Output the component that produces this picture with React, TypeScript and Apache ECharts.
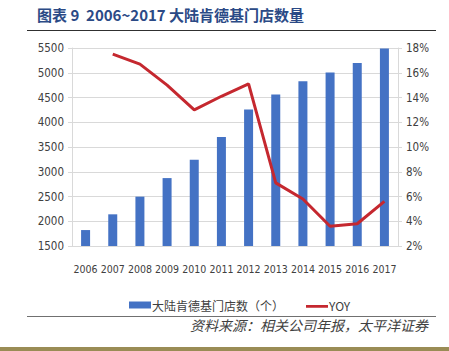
import React, { useEffect, useRef } from "react";
import * as echarts from "echarts";

const years = ["2006", "2007", "2008", "2009", "2010", "2011", "2012", "2013", "2014", "2015", "2016", "2017"];
const stores = [1822, 2140, 2497, 2872, 3244, 3701, 4260, 4563, 4828, 5003, 5195, 5488];
const yoy = [null, 17.5, 16.7, 15.0, 13.0, 14.1, 15.1, 7.1, 5.8, 3.6, 3.8, 5.6];
const barName = "大陆肯德基门店数（个）";
const lineName = "YOY";
const titleText = "图表 9  2006~2017 大陆肯德基门店数量";
const sourceText = "资料来源：相关公司年报，太平洋证券";

const axisFont = "'DejaVu Sans Condensed', 'Liberation Sans Narrow', sans-serif";
const cjkFont = "'Noto Sans CJK SC', sans-serif";

export default function App() {
  const ref = useRef<HTMLDivElement>(null);
  useEffect(() => {
    if (!ref.current) return;
    const chart = echarts.init(ref.current, null, { renderer: "svg" });
    chart.setOption({
      animation: false,
      backgroundColor: "#ffffff",
      grid: { left: 72, right: 51, top: 48, bottom: 105 },
      legend: {
        top: 294,
        left: 124,
        itemGap: 22,
        itemWidth: 22,
        itemHeight: 7,
        textStyle: { fontFamily: cjkFont, fontSize: 12, color: "#404040", padding: [0, 0, 0, -4] },
        data: [
          { name: barName, icon: "rect" },
          { name: lineName, icon: "path://M0,0L0.01,0M0,3H24V6H0Z" },
        ],
      },
      xAxis: {
        type: "category",
        data: years,
        axisLine: { show: true, lineStyle: { color: "#d9d9d9" } },
        axisTick: { show: false },
        axisLabel: { fontFamily: axisFont, fontSize: 10.5, color: "#404040", margin: 17, interval: 0 },
      },
      yAxis: [
        {
          type: "value",
          min: 1500,
          max: 5500,
          interval: 500,
          axisLine: { show: true, lineStyle: { color: "#d9d9d9" } },
          axisTick: { show: true, length: 4, lineStyle: { color: "#d9d9d9" } },
          splitLine: { lineStyle: { color: "#d9d9d9" } },
          axisLabel: { fontFamily: axisFont, fontSize: 11.5, color: "#404040", margin: 8, formatter: (v: number) => String(v) },
        },
        {
          type: "value",
          min: 2,
          max: 18,
          interval: 2,
          position: "right",
          axisLine: { show: true, lineStyle: { color: "#d9d9d9" } },
          axisTick: { show: true, length: 4, lineStyle: { color: "#d9d9d9" } },
          splitLine: { show: false },
          axisLabel: { fontFamily: axisFont, fontSize: 11.5, color: "#404040", margin: 8, formatter: "{value}%" },
        },
      ],
      series: [
        {
          name: barName,
          type: "bar",
          data: stores,
          barWidth: 9,
          itemStyle: { color: "#4472c4" },
        },
        {
          name: lineName,
          type: "line",
          yAxisIndex: 1,
          data: yoy,
          symbol: "none",
          lineStyle: { color: "#c5282f", width: 3 },
          itemStyle: { color: "#c5282f" },
        },
      ],
      graphic: [
        {
          type: "text",
          left: 37,
          top: 7,
          style: { text: titleText, font: "bold 15px " + cjkFont, fill: "#2b4a86" },
        },
        {
          type: "line",
          shape: { x1: 27, y1: 30.5, x2: 436, y2: 30.5 },
          style: { stroke: "#303030", lineWidth: 1 },
        },
        {
          type: "line",
          shape: { x1: 27, y1: 316.5, x2: 436, y2: 316.5 },
          style: { stroke: "#707070", lineWidth: 1 },
        },
        {
          type: "text",
          right: 21,
          top: 318,
          style: { text: sourceText, font: "italic 14px " + cjkFont, fill: "#404040" },
        },
        {
          type: "rect",
          shape: { x: 0, y: 347, width: 449, height: 4 },
          style: { fill: "#9a8c55" },
        },
      ],
    });
    return () => chart.dispose();
  }, []);
  return <div ref={ref} style={{ position: "fixed", left: 0, top: 0, width: 449, height: 351 }} />;
}
